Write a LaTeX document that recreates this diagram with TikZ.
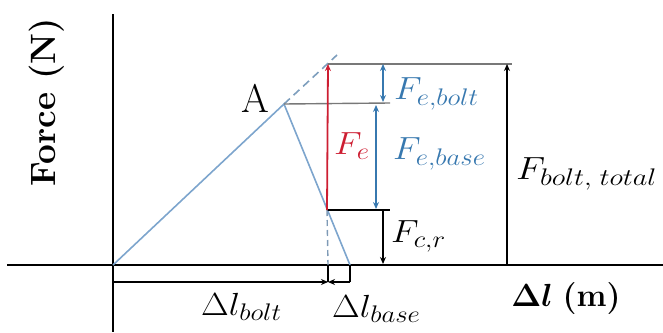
\RequirePackage{fix-cm}
\documentclass[tikz,border=0pt]{standalone}
\usepackage{amsmath,bm}
\usetikzlibrary{arrows.meta}
\DeclareMathSizes{32}{32}{24}{18}
\definecolor{lblue}{RGB}{125,165,205}
\definecolor{tblue}{RGB}{55,120,175}
\definecolor{fred}{RGB}{205,30,50}
\definecolor{lgrey}{RGB}{120,120,120}
\newcommand\wide[1]{\scalebox{1.12}[1]{#1}}
\begin{document}
\begin{tikzpicture}[x=1pt,y=-1pt,
  axis/.style={line width=2.6pt,black},
  curve/.style={line width=1.6pt,lblue},
  guide/.style={line width=1.4pt,lgrey},
  tip/.style={-{Stealth[length=7pt,width=6pt]}},
  dtip/.style={{Stealth[length=7pt,width=6pt]}-{Stealth[length=7pt,width=6pt]}},
  lab/.style={inner sep=0pt,font=\fontsize{32}{34}\selectfont}]
\useasboundingbox (0,0) rectangle (663,332);
% key points
\coordinate (O) at (113,265);
\coordinate (A) at (284,104);
\coordinate (Ext) at (337,55);
\coordinate (Top) at (328,64);
\coordinate (Mid) at (327,210);
\coordinate (Bt) at (350,265);
\coordinate (Ay) at (390,103);
\coordinate (TopR) at (512,64);
\coordinate (MidR) at (390,210);
% axes
\coordinate (Xl) at (7,265);
\coordinate (Xr) at (663,265);
\coordinate (Yt) at (113,14);
\coordinate (Yb) at (113,332);
\draw[axis] (Xl) -- (Xr);
\draw[axis] (Yt) -- (Yb);
% curves
\draw[curve] (O) -- (A) -- (Bt);
\draw[curve,dashed,dash pattern=on 8pt off 5pt,lblue!80!gray] (A) -- (Ext);
% guides
\draw[guide] (A) -- (Ay);
\draw[guide] (Top) -- (TopR);
\draw[black,line width=1.4pt] (Mid) -- (MidR);
\draw[guide,dashed,dash pattern=on 6pt off 4pt,lblue!70!gray] (Mid) -- (328,265);
% red F_e
\draw[fred,line width=1.8pt,tip] (Mid) -- (Top);
\node[lab,text=fred,anchor=west] (Fe) at (334,146) {\wide{$F_e$}};
% blue arrows
\coordinate (b1t) at (383,64);
\coordinate (b1b) at (383,102);
\coordinate (b2t) at (376,105);
\coordinate (b2b) at (376,209);
\draw[tblue,line width=1.2pt,dtip] (b1t) -- (b1b);
\draw[tblue,line width=1.2pt,dtip] (b2t) -- (b2b);
\node[lab,text=tblue,anchor=west] (Feb) at (394,94) {\wide{$F_{e,bolt}$}};
\node[lab,text=tblue,anchor=west] (Feba) at (393,154) {\wide{$F_{e,base}$}};
% F_c,r
\coordinate (c1) at (383,210);
\coordinate (c2) at (383,264);
\draw[black,line width=1.4pt,tip] (c1) -- (c2);
\node[lab,anchor=west] (Fcr) at (391,236) {\wide{$F_{c,r}$}};
% F_bolt,total
\coordinate (t1) at (507,264);
\coordinate (t2) at (507,64);
\draw[black,line width=1.4pt,tip] (t1) -- (t2);
\node[lab,anchor=west] (Fbt) at (516,174) {\scalebox{1.18}[1]{$F_{bolt,\;total}$}};
% A label
\node[lab] (Alab) at (255,98) {\scalebox{1.25}{A}};
% bottom dimensions
\coordinate (d0) at (113,282);
\coordinate (d1) at (328,282);
\coordinate (d2) at (350,282);
\draw[black,line width=1.2pt] (328,265) -- (d1);
\draw[black,line width=1.2pt] (Bt) -- (d2);
\draw[black,line width=1.2pt,tip] (d0) -- (d1);
\draw[black,line width=1.2pt,tip] (d2) -- (d1);
\node[lab,anchor=west] (dlb) at (201,307) {\wide{$\Delta l_{bolt}$}};
\node[lab,anchor=west] (dlba) at (332,309) {\wide{$\Delta l_{base}$}};
\node[lab] (dlm) at (566,299) {$\bm{\Delta l}$ \textbf{(m)}};
% y label
\node[lab,rotate=90] (ylab) at (47,102) {\scalebox{1.1}{\bfseries Force (N)}};
\end{tikzpicture}
\end{document}
